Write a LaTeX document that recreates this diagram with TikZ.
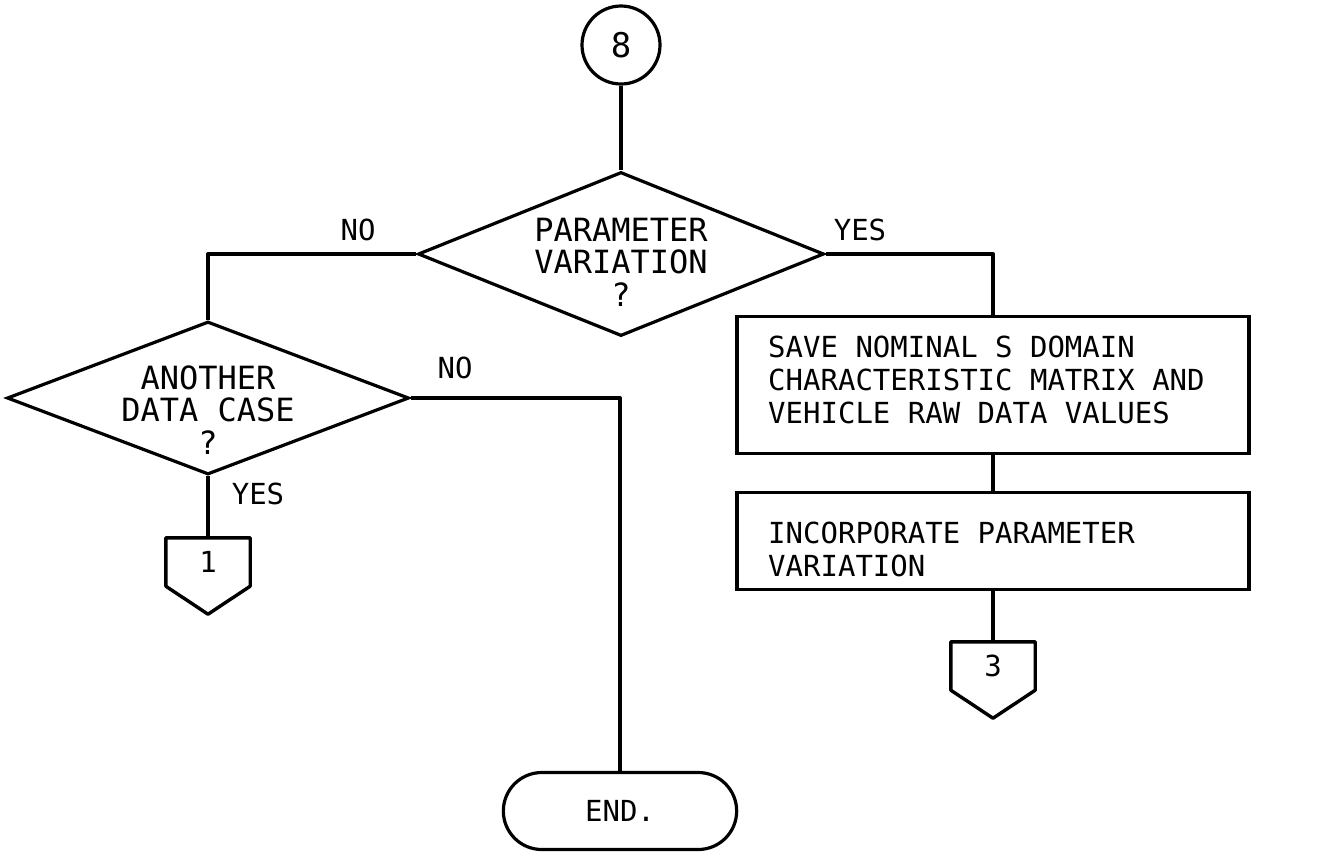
\documentclass[tikz,border=0pt]{standalone}
\usepackage{fontspec}
\newfontfamily\ttf[WordSpace={1,0,0}]{DejaVu Sans Mono}
\usetikzlibrary{shapes.geometric,shapes.misc,calc}
\begin{document}
\begin{tikzpicture}[x=1pt,y=-1pt,
  line/.style={line width=3.4pt, line join=round},
  txt/.style={font=\ttf\fontsize{29}{33}\selectfont},
  bigtxt/.style={font=\ttf\fontsize{32}{32.5}\selectfont},
  dec/.style={diamond, draw, line width=3.2pt, inner sep=0pt},
  proc/.style={rectangle, draw, line width=3.2pt, minimum width=512pt, inner sep=0pt},
  ptxt/.style={txt, align=left, anchor=west, inner sep=0pt},
  dtxt/.style={bigtxt, align=center, inner sep=0pt},
  conn/.style={circle, draw, line width=3.2pt, minimum size=78pt, inner sep=0pt, font=\ttf\fontsize{34}{34}\selectfont},
  term/.style={rounded rectangle, draw, line width=3.2pt, minimum width=240pt, minimum height=77pt, txt},
  offp/.style={rectangle, minimum width=84pt, minimum height=48pt, inner sep=0pt, txt},
  lab/.style={txt},
]
\useasboundingbox (0,0) rectangle (1327,863);

% nodes
\node[conn] (c8) at (621,45) {8};
\node[dec, minimum width=406pt, minimum height=164pt] (d1) at (621,254) {};
\node[dtxt] (d1t) at (621,262) {PARAMETER\\VARIATION\\?};
\node[dec, minimum width=402pt, minimum height=153pt] (d2) at (208,398) {};
\node[dtxt] (d2t) at (208,410) {ANOTHER\\DATA CASE\\?};
\node[proc, minimum height=137pt] (save) at (993,385) {};
\node[ptxt] (savet) at (768,380) {SAVE NOMINAL S DOMAIN\\CHARACTERISTIC MATRIX AND\\VEHICLE RAW DATA VALUES};
\node[proc, minimum height=97pt] (inc) at (993,541) {};
\node[ptxt] (inct) at (768,549) {INCORPORATE PARAMETER\\VARIATION};
\node[term] (end) at (620,811) {END.};
\node[offp] (p1) at (208,562) {1};
\node[offp] (p3) at (993,666) {3};

% off-page connector outlines
\draw[line] (p1.north west) -- (p1.north east) -- (p1.south east) -- ($(p1.south)+(0,28)$) -- (p1.south west) -- cycle;
\draw[line] (p3.north west) -- (p3.north east) -- (p3.south east) -- ($(p3.south)+(0,28)$) -- (p3.south west) -- cycle;

% connectors
\draw[line] (c8) -- (d1.north);
\draw[line] (d1.west) -| (d2.north);
\draw[line] (d1.east) -| (save.north);
\draw[line] (save.south) -- (inc.north);
\draw[line] (inc.south) -- (p3.north);
\draw[line] (d2.east) -| (end.north);
\draw[line] (d2.south) -- (p1.north);

% labels
\node[lab] (no1) at (358,230) {NO};
\node[lab] (yes1) at (860,230) {YES};
\node[lab] (no2) at (455,368) {NO};
\node[lab] (yes2) at (258,494) {YES};
\end{tikzpicture}
\end{document}
